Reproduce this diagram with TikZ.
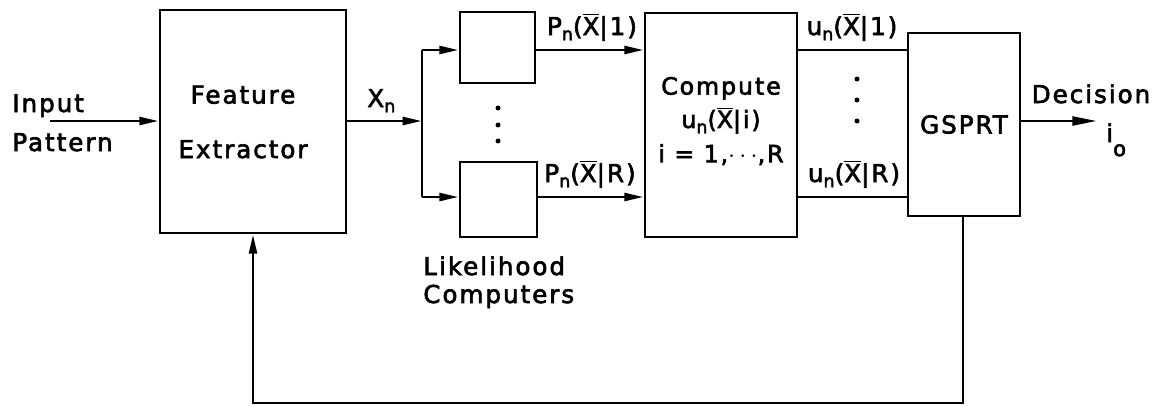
\documentclass[tikz,border=0pt]{standalone}
\usepackage{fontspec}
\setmainfont{DejaVu Sans}[LetterSpace=8,FakeBold=2.5]
\usetikzlibrary{arrows.meta,positioning,calc}
\newcommand{\Xbar}{\ensuremath{\overline{\hbox{X}}}}
\newcommand{\sbs}[1]{\raisebox{-3pt}{\fontsize{10}{10}\selectfont #1}}
\tikzset{
 block/.style={draw, line width=1.6pt, inner sep=0pt, align=center},
 wire/.style={line width=1.6pt},
 arrow/.style={wire, -{Triangle[length=11pt,width=4.5pt]}},
 lettering/.style={inner sep=0pt, anchor=base}
}

\begin{document}
\begin{tikzpicture}[x=0.02cm,y=-0.02cm,font=\fontsize{14}{17}\selectfont]
\useasboundingbox (0,0) rectangle (1160,406);
\node[block,minimum width=3.72cm,minimum height=4.46cm] (fe) at (253,121.5) {};
\node[block,minimum width=1.5cm,minimum height=1.42cm] (lik1) at (497.5,47.5) {};
\node[block,minimum width=1.54cm,minimum height=1.5cm] (likR) at (498.5,199.5) {};
\node[block,minimum width=3.04cm,minimum height=4.48cm] (comp) at (721,125) {};
\node[block,minimum width=2.24cm,minimum height=3.66cm] (gsprt) at (964,124.5) {GSPRT};

\node[align=center,inner sep=0pt] (fetext) at (243,122) {Feature\\[14pt]Extractor};
\node[align=center,inner sep=0pt,font=\fontsize{13.5}{15.5}\selectfont] (comptext) at (721,121)
 {Compute\\[3.5pt]u\sbs{n}(\Xbar|i)\\[4pt]i = 1,$\cdots$,R};

\node[lettering,anchor=base west] (input) at (12,112) {Input};
\node[lettering,anchor=base west] (pattern) at (12,151) {Pattern};
\node[lettering,anchor=base west] (xn) at (367,107) {X\sbs{n}};
\node[lettering] (p1) at (592,35) {P\sbs{n}(\Xbar|1)};
\node[lettering] (pR) at (590,182) {P\sbs{n}(\Xbar|R)};
\node[lettering,anchor=base west] (likeli) at (423,275) {Likelihood};
\node[lettering,anchor=base west] (comps) at (423,303) {Computers};
\node[lettering] (u1) at (852,35) {u\sbs{n}(\Xbar|1)};
\node[lettering] (uR) at (854,182) {u\sbs{n}(\Xbar|R)};
\node[lettering] (decision) at (1091,103) {Decision};
\node[lettering,anchor=base west] (io) at (1106,142) {i\raisebox{-8pt}{\fontsize{12}{12}\selectfont o}};

\foreach \y in {108,125,141} \fill (498,\y) circle[radius=0.05cm];
\foreach \y in {79,100,121} \fill (857,\y) circle[radius=0.05cm];

\coordinate (inp) at (50,121);
\coordinate (br) at (422,121);
\coordinate (br1) at (422,50);
\coordinate (brR) at (422,197);
\coordinate (dec) at (1097,121);
\coordinate (fb) at (963,403);
\draw[arrow] (inp) -- (inp -| fe.west);
\draw[arrow] (inp -| fe.east) -- (br);
\draw[wire] (br1) -- (brR);
\draw[arrow] (br1) -- (br1 -| lik1.west);
\draw[arrow] (brR) -- (brR -| likR.west);
\draw[arrow] (br1 -| lik1.east) -- (br1 -| comp.west);
\draw[arrow] (brR -| likR.east) -- (brR -| comp.west);
\draw[wire] (br1 -| comp.east) -- (br1 -| gsprt.west);
\draw[wire] (brR -| comp.east) -- (brR -| gsprt.west);
\draw[arrow,-{Triangle[length=14pt,width=5pt]}] (gsprt.east |- dec) -- (dec);
\draw[arrow] (gsprt.south -| fb) -- (fb) -- (fb -| fe.south) -- (fe.south);
\end{tikzpicture}
\end{document}
